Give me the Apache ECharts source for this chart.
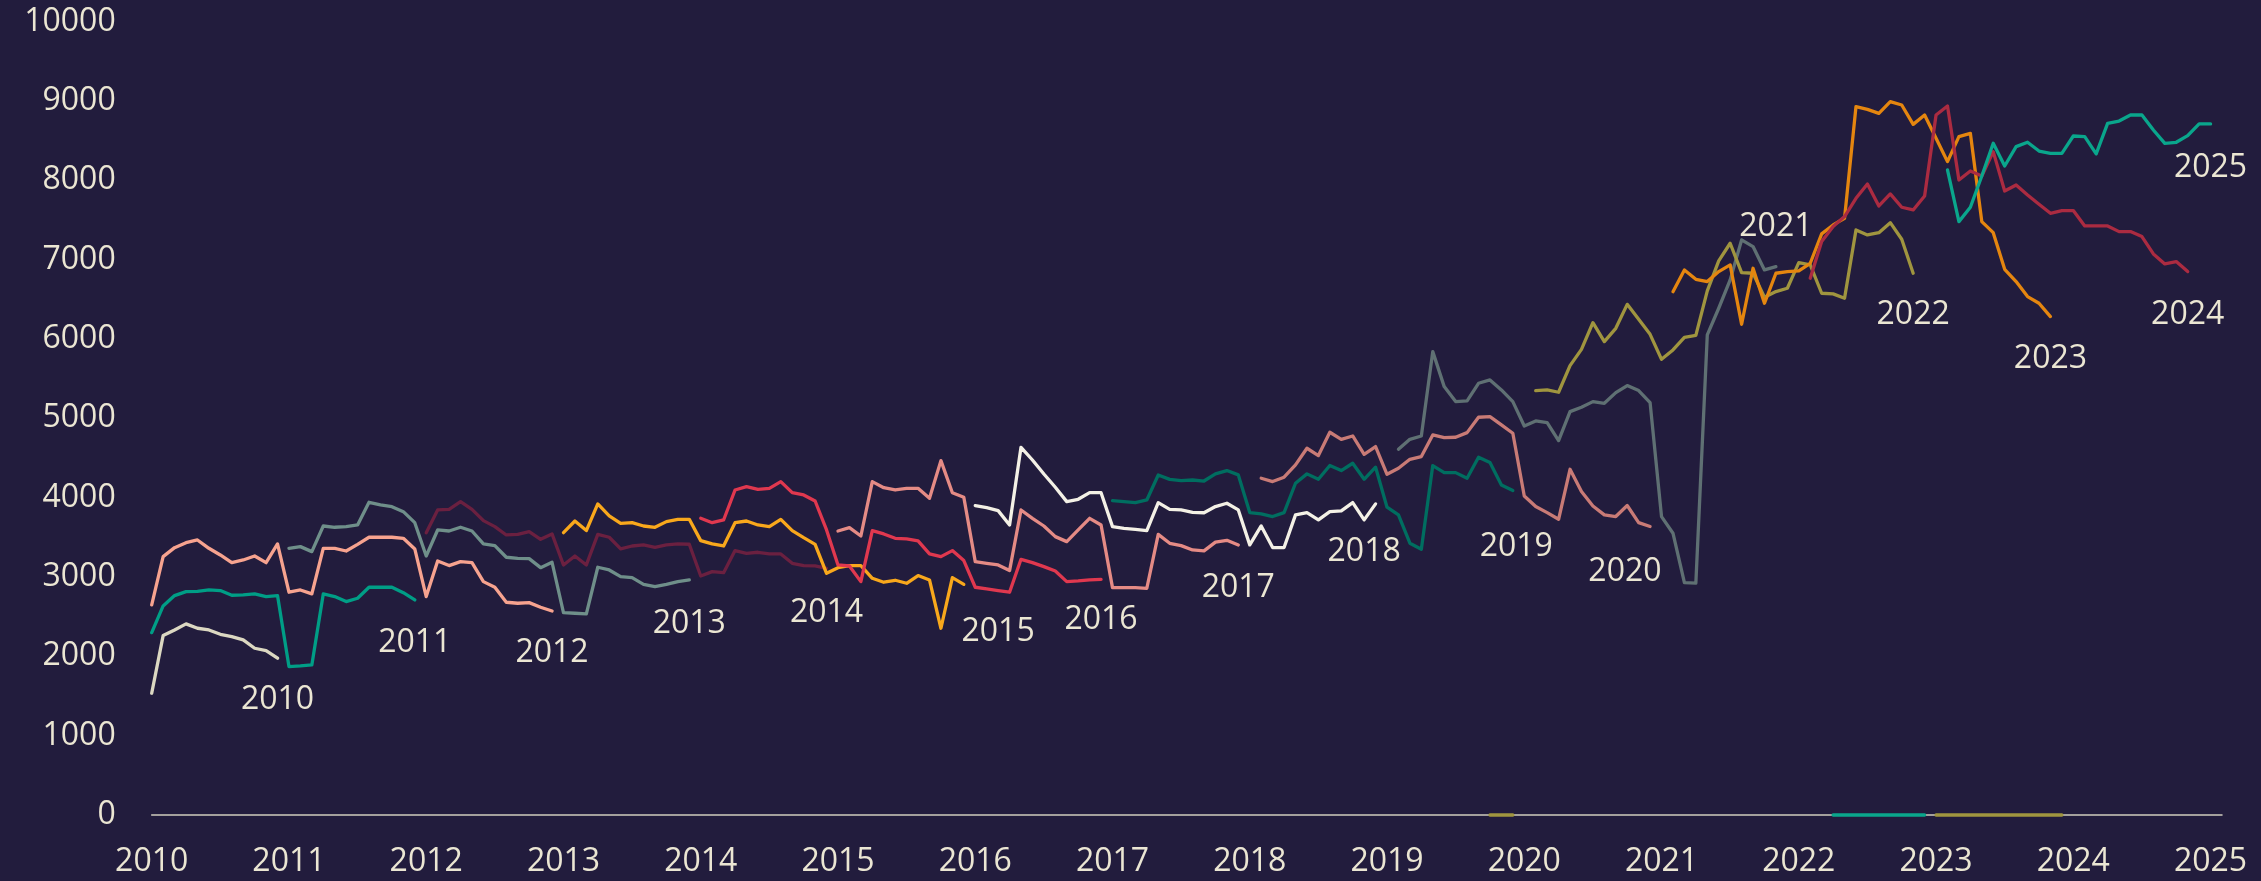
<!DOCTYPE html>
<html>
<head>
<meta charset="utf-8">
<script src="https://cdn.jsdelivr.net/npm/echarts@6.0.0/dist/echarts.min.js"></script>
<style>
  html, body { margin: 0; padding: 0; background: #221c3d; }
  #chart { width: 2261px; height: 881px; }
</style>
</head>
<body>
<div id="chart"></div>
<script>
// x is a month index: 0 = Jan 2010
const names = ['2010', '2011', '2012', '2013', '2014', '2015', '2016', '2017',
  '2018', '2019', '2020', '2021', '2022', '2023', '2024', '2025'];
const starts = [0, 0, 0, 12, 24, 36, 48, 60, 72, 84, 97, 109, 121, 133, 145, 157];

const v2010 = [1535, 2262, 2333, 2409, 2354, 2333, 2278, 2249, 2207, 2102, 2073, 1976];
const v2011 = [2299, 2635, 2766, 2816, 2820, 2837, 2829, 2770, 2774, 2787, 2753, 2766,
  1871, 1879, 1892, 2787, 2753, 2690, 2732, 2871, 2871, 2871, 2802, 2711];
const v2012 = [2648, 3257, 3370, 3433, 3467, 3362, 3278, 3181, 3215, 3265, 3181, 3417,
  2808, 2837, 2787, 3362, 3362, 3328, 3412, 3501, 3501, 3501, 3488, 3354,
  2753, 3202, 3144, 3194, 3181, 2942, 2871, 2682, 2669, 2677, 2619, 2572];
const v2013 = [3362, 3383, 3320, 3643, 3627, 3635, 3656, 3942, 3908, 3887, 3824, 3685,
  3265, 3593, 3580, 3627, 3580, 3417, 3396, 3249, 3236, 3232, 3118, 3186,
  2551, 2543, 2535, 3123, 3089, 3005, 2992, 2908, 2879, 2908, 2942, 2963];
const v2014 = [3559, 3845, 3853, 3950, 3853, 3711, 3635, 3530, 3538, 3572, 3475, 3543,
  3152, 3265, 3152, 3538, 3501, 3354, 3391, 3404, 3375, 3404, 3417, 3413,
  3013, 3068, 3055, 3333, 3299, 3312, 3291, 3291, 3173, 3144, 3140, 3110];
const v2015 = [3559, 3706, 3585, 3921, 3770, 3677, 3685, 3643, 3627, 3698, 3727, 3727,
  3459, 3417, 3391, 3685, 3706, 3656, 3635, 3727, 3585, 3496, 3412, 3047,
  3118, 3144, 3144, 2984, 2934, 2959, 2921, 3018, 2963, 2354, 2992, 2908];
const v2016 = [3740, 3685, 3719, 4097, 4139, 4105, 4118, 4202, 4063, 4034, 3958, 3593,
  3152, 3139, 2942, 3585, 3543, 3488, 3480, 3455, 3291, 3257, 3333, 3207,
  2871, 2850, 2829, 2808, 3223, 3181, 3131, 3076, 2942, 2950, 2963, 2971];
const v2017 = [3580, 3622, 3517, 4202, 4126, 4097, 4118, 4118, 3992, 4467, 4063, 4005,
  3194, 3173, 3152, 3081, 3845, 3740, 3643, 3509, 3446, 3593, 3740, 3656,
  2866, 2866, 2866, 2858, 3538, 3425, 3396, 3341, 3330, 3440, 3463, 3404];
const v2018 = [3900, 3874, 3837, 3656, 4635, 4475, 4299, 4131, 3950, 3980, 4063, 4063,
  3635, 3614, 3601, 3585, 3937, 3853, 3845, 3816, 3810, 3888, 3930, 3846,
  3405, 3644, 3371, 3371, 3783, 3812, 3720, 3825, 3833, 3938, 3720, 3922];
const v2019 = [3963, 3950, 3937, 3971, 4286, 4231, 4215, 4223, 4210, 4300, 4342, 4287,
  3812, 3796, 3762, 3812, 4182, 4300, 4232, 4405, 4342, 4434, 4232, 4384,
  3880, 3783, 3426, 3350, 4405, 4316, 4316, 4245, 4510, 4442, 4161, 4090];
const v2020 = [4245, 4203, 4258, 4413, 4623, 4531, 4825, 4736, 4778, 4547, 4644,
  4295, 4371, 4484, 4518, 4791, 4757, 4762, 4820, 5014, 5022, 4917, 4812,
  4022, 3888, 3812, 3728, 4358, 4077, 3896, 3783, 3762, 3901, 3686, 3636];
const v2021 = [4610, 4736, 4778, 5841, 5400, 5211, 5219, 5442, 5484, 5358, 5211,
  4904, 4967, 4946, 4720, 5085, 5140, 5211, 5190, 5324, 5413, 5350, 5198,
  3762, 3552, 2930, 2922, 6051, 6388, 6745, 7249, 7165, 6871, 6913];
const v2022 = [5350, 5358, 5329, 5665, 5870, 6206, 5967, 6135, 6437, 6248, 6059,
  5744, 5862, 6022, 6045, 6608, 6986, 7207, 6837, 6829, 6527, 6598, 6640,
  6963, 6934, 6577, 6569, 6514, 7375, 7312, 7341, 7467, 7257, 6829];
const v2023 = [6597, 6870, 6753, 6724, 6850, 6934, 6186, 6892, 6451, 6829, 6850,
  6858, 6955, 7325, 7438, 7522, 8929, 8895, 8845, 8992, 8950, 8706, 8824,
  8530, 8236, 8551, 8593, 7480, 7341, 6879, 6724, 6535, 6451, 6283];
const v2024 = [6766, 7228, 7417, 7543, 7774, 7955, 7677, 7829, 7661, 7627, 7803,
  8824, 8937, 8005, 8118, 8055, 8362, 7866, 7942, 7816, 7698, 7585, 7619,
  7619, 7425, 7425, 7425, 7354, 7354, 7291, 7073, 6947, 6976, 6850];
const v2025 = [8131, 7480, 7661, 8055, 8467, 8181, 8425, 8480, 8370, 8341, 8341,
  8559, 8551, 8333, 8719, 8748, 8824, 8824, 8635, 8467, 8480, 8564, 8711, 8711];

const values = [v2010, v2011, v2012, v2013, v2014, v2015, v2016, v2017,
  v2018, v2019, v2020, v2021, v2022, v2023, v2024, v2025];

// runs of zero values (first month, last month)
const zeroRuns = { '2022': [[117, 119], [156, 167]], '2025': [[147, 155]] };

// where each year tag sits (month, value)
const tagMonth = [11, 23, 35, 47, 59, 74, 83, 95, 106, 119.3, 128.8, 142, 154, 166, 178, 180];
const tagValue = [1450, 2172, 2042, 2415, 2546, 2310, 2458, 2857, 3319, 3382, 3067, 7416, 6302, 5744, 6302, 8160];

const colors = ['#dcd8c2', '#009e86', '#f7a38f', '#6f8f8a', '#6b2040', '#f9a81c',
  '#e0384f', '#e58b85', '#f4f1e6', '#006e60', '#c97b76', '#5f7073',
  '#a0953f', '#e5860f', '#ab2b41', '#0aa68c'];

const txt = '#ebe6d3';
const font = 'Open Sans';

function buildData(i) {
  const segs = [values[i].map((v, k) => [starts[i] + k, v])];
  (zeroRuns[names[i]] || []).forEach(r => {
    const s = [];
    for (let m = r[0]; m <= r[1]; m++) s.push([m, 0]);
    segs.push(s);
  });
  segs.sort((a, b) => a[0][0] - b[0][0]);
  let out = [];
  segs.forEach((s, j) => {
    if (j > 0) out.push([s[0][0] - 0.5, '-']);
    out = out.concat(s);
  });
  return out;
}

const series = names.map((n, i) => ({
  name: n,
  type: 'line',
  data: buildData(i),
  showSymbol: false,
  connectNulls: false,
  clip: false,
  lineStyle: { color: colors[i], width: 3.3, cap: 'round', join: 'round' },
  itemStyle: { color: colors[i] },
  emphasis: { disabled: true },
  z: 3
}));

series.push({
  type: 'scatter',
  data: names.map((n, i) => ({ name: n, value: [tagMonth[i], tagValue[i]] })),
  symbolSize: 0,
  itemStyle: { color: 'rgba(0,0,0,0)', opacity: 1 },
  label: {
    show: true,
    formatter: '{b}',
    position: 'inside',
    color: txt,
    opacity: 1,
    fontFamily: font,
    fontSize: 32
  },
  emphasis: { disabled: true },
  silent: true,
  z: 5
});

const chart = echarts.init(document.getElementById('chart'));
chart.setOption({
  backgroundColor: '#221c3d',
  animation: false,
  grid: { left: 151.7, right: 39, top: 21.7, bottom: 66, containLabel: false },
  xAxis: {
    type: 'value',
    min: 0,
    max: 181,
    interval: 12,
    z: 1,
    axisLine: { show: true, lineStyle: { color: '#cfcbbd', width: 1.5 } },
    axisTick: { show: false },
    splitLine: { show: false },
    axisLabel: {
      color: txt,
      fontFamily: font,
      fontSize: 32,
      margin: 31,
      showMaxLabel: false,
      formatter: v => String(2010 + v / 12)
    }
  },
  yAxis: {
    type: 'value',
    min: 0,
    max: 10000,
    interval: 1000,
    axisLine: { show: false },
    axisTick: { show: false },
    splitLine: { show: false },
    axisLabel: {
      color: txt, fontFamily: font, fontSize: 32, margin: 36,
      formatter: v => String(v)
    }
  },
  series: series
});
</script>
</body>
</html>
